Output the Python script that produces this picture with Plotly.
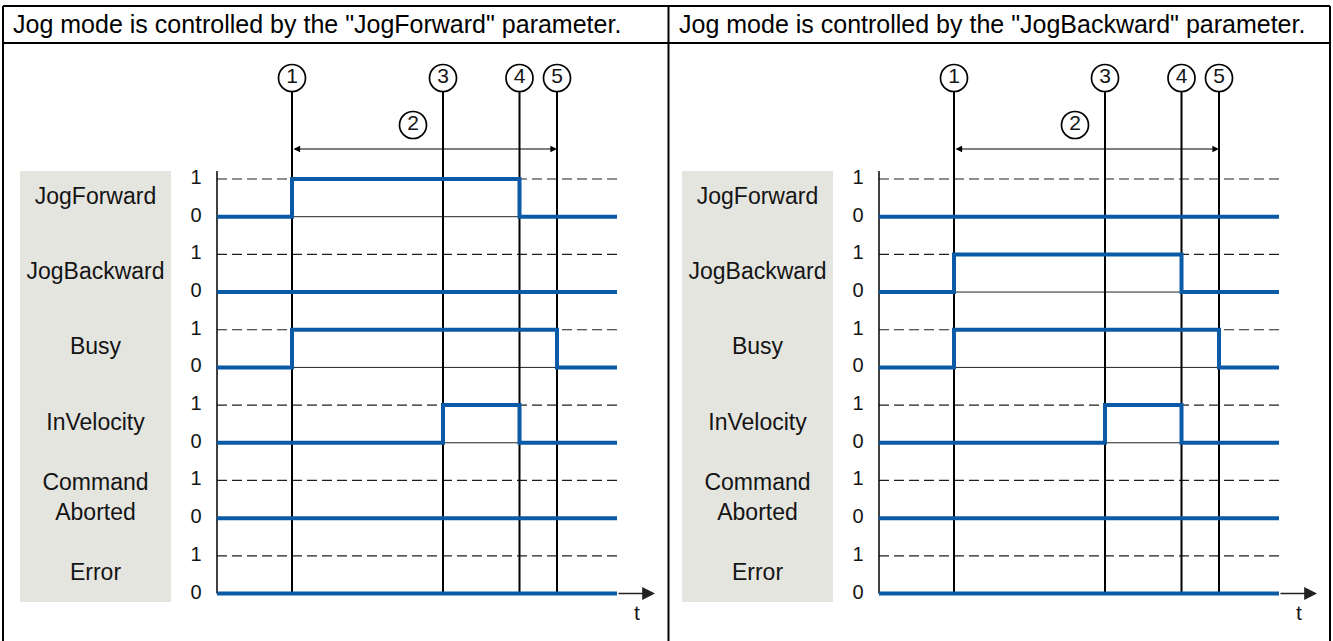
import plotly.graph_objects as go

# --- data -----------------------------------------------------------------
headers = ['Jog mode is controlled by the "JogForward" parameter.',
           'Jog mode is controlled by the "JogBackward" parameter.']

signal_names = ["JogForward", "JogBackward", "Busy", "InVelocity",
                "Command<br>Aborted", "Error"]

# event markers 1,3,4,5 on the time axis (axis runs 0..8)
event_ids = ["1", "3", "4", "5"]
event_times = [1.5, 4.52, 6.05, 6.8]
t_end = 8.0
span_id = "2"
span_label_t = 3.92

# signal state in the intervals [0,t1) [t1,t3) [t3,t4) [t4,t5) [t5,end]
fwd_jogforward = [0, 1, 1, 0, 0]
fwd_jogbackward = [0, 0, 0, 0, 0]
fwd_busy = [0, 1, 1, 1, 0]
fwd_invelocity = [0, 0, 1, 0, 0]
fwd_aborted = [0, 0, 0, 0, 0]
fwd_error = [0, 0, 0, 0, 0]

bwd_jogforward = [0, 0, 0, 0, 0]
bwd_jogbackward = [0, 1, 1, 0, 0]
bwd_busy = [0, 1, 1, 1, 0]
bwd_invelocity = [0, 0, 1, 0, 0]
bwd_aborted = [0, 0, 0, 0, 0]
bwd_error = [0, 0, 0, 0, 0]

panels = [
    [fwd_jogforward, fwd_jogbackward, fwd_busy, fwd_invelocity, fwd_aborted, fwd_error],
    [bwd_jogforward, bwd_jogbackward, bwd_busy, bwd_invelocity, bwd_aborted, bwd_error],
]

# --- geometry / style -----------------------------------------------------
W, H = 1333, 641
SX, SY = 50.0, 37.68          # px per time unit / per level unit
ORIGIN_X = [217, 879]         # pixel x of t=0 in each panel
ORIGIN_Y = 593.5              # pixel y of the lowest 0 level
SPLIT = 668.5                 # column divider

BLUE = "#0b5aa5"
INK = "#141414"
FONT = "Liberation Sans, Arial, sans-serif"


def rx(px):
    # panel relative pixel -> time units
    return (px - 217) / SX


def ry(py):
    return (ORIGIN_Y - py) / SY


def pxp(px):
    return px / W


def pyp(py):
    return 1 - py / H


fig = go.Figure()
n = len(signal_names)
bounds = [0.0] + event_times + [t_end]
circle_y = ry(78)
line_top = ry(91)

for k, states in enumerate(panels):
    xa = "x" if k == 0 else "x2"

    # grey label box
    fig.add_shape(type="rect", xref=xa, yref="y", x0=rx(20), x1=rx(171),
                  y0=ry(602), y1=ry(171), fillcolor="#e5e5e0", line_width=0,
                  layer="below")

    dash_x, dash_y, base_x, base_y = [], [], [], []
    for i in range(n):
        base = 2 * (n - 1 - i)
        dash_x += [0, t_end, None]
        dash_y += [base + 1, base + 1, None]
        base_x += [0, t_end, None]
        base_y += [base, base, None]
    fig.add_trace(go.Scatter(x=dash_x, y=dash_y, xaxis=xa, yaxis="y", mode="lines",
                             line=dict(color="#1e1e1e", width=1.2, dash="10px,5px")))
    fig.add_trace(go.Scatter(x=base_x, y=base_y, xaxis=xa, yaxis="y", mode="lines",
                             line=dict(color="#222222", width=1)))

    # y axis line
    fig.add_trace(go.Scatter(x=[0, 0], y=[0, ry(171)], xaxis=xa, yaxis="y",
                             mode="lines", line=dict(color="black", width=1.5)))

    # event lines
    ev_x, ev_y = [], []
    for t in event_times:
        ev_x += [t, t, None]
        ev_y += [0, line_top, None]
    fig.add_trace(go.Scatter(x=ev_x, y=ev_y, xaxis=xa, yaxis="y", mode="lines",
                             line=dict(color="black", width=2)))

    # signals
    for i, s in enumerate(states):
        base = 2 * (n - 1 - i)
        fig.add_trace(go.Scatter(x=bounds, y=[base + v for v in s] + [base + s[-1]],
                                 xaxis=xa, yaxis="y", mode="lines",
                                 line=dict(color=BLUE, width=4, shape="hv")))

    # level labels 1 / 0
    lv_y, lv_t = [], []
    for i in range(n):
        base = 2 * (n - 1 - i)
        lv_y += [base + 1, base]
        lv_t += ["1", "0"]
    fig.add_trace(go.Scatter(x=[rx(196)] * len(lv_y), y=lv_y, text=lv_t, xaxis=xa,
                             yaxis="y", mode="text",
                             textfont=dict(family=FONT, size=20, color=INK)))

    # signal names
    fig.add_trace(go.Scatter(x=[rx(95.5)] * n,
                             y=[2 * (n - 1 - i) + 0.5 for i in range(n)],
                             text=signal_names, xaxis=xa, yaxis="y", mode="text",
                             textfont=dict(family=FONT, size=23, color=INK)))

    # numbered circles
    fig.add_trace(go.Scatter(x=event_times + [span_label_t],
                             y=[circle_y] * len(event_times) + [ry(125)],
                             text=event_ids + [span_id], xaxis=xa, yaxis="y",
                             mode="markers+text", textposition="middle center",
                             marker=dict(symbol="circle", size=27, color="white",
                                         line=dict(color="black", width=1.7)),
                             textfont=dict(family=FONT, size=21, color=INK)))

    # span arrow between event 1 and event 5
    fig.add_annotation(x=event_times[-1], y=ry(149), ax=event_times[0], ay=ry(149),
                       xref=xa, yref="y", axref=xa, ayref="y", text="",
                       showarrow=True, arrowside="end+start", arrowhead=2,
                       startarrowhead=2, arrowsize=1.1, startarrowsize=1.1,
                       arrowwidth=1.2, arrowcolor="black", standoff=0, startstandoff=0)

    # time axis arrow + t
    fig.add_annotation(x=rx(655), y=0, ax=t_end, ay=0, xref=xa, yref="y",
                       axref=xa, ayref="y", text="", showarrow=True, arrowhead=2,
                       arrowsize=1.6, arrowwidth=1.6, arrowcolor="#222222",
                       standoff=0)
    fig.add_annotation(x=rx(637), y=ry(612), xref=xa, yref="y", text="t",
                       showarrow=False, font=dict(family=FONT, size=21, color=INK))

    # header text
    fig.add_annotation(x=pxp([11, SPLIT + 8][k]), y=pyp(24), xref="paper", yref="paper",
                       text=headers[k], showarrow=False, xanchor="left", yanchor="middle",
                       font=dict(family=FONT, size=25, color="black"))

# table borders
for x0, y0, x1, y1 in [(3, 6, 1330, 6), (3, 43, 1330, 43), (3, 6, 3, H),
                       (SPLIT, 6, SPLIT, H), (1330, 6, 1330, H)]:
    fig.add_shape(type="line", xref="paper", yref="paper", x0=pxp(x0), y0=pyp(y0),
                  x1=pxp(x1), y1=pyp(y1), line=dict(color="black", width=2))

fig.update_layout(
    width=W, height=H, margin=dict(l=0, r=0, t=0, b=0),
    paper_bgcolor="white", plot_bgcolor="white", showlegend=False,
    hovermode=False,
    xaxis=dict(domain=[0, 666 / W], range=[(0 - ORIGIN_X[0]) / SX, (666 - ORIGIN_X[0]) / SX],
               visible=False, anchor="y"),
    xaxis2=dict(domain=[666 / W, 1], range=[(666 - ORIGIN_X[1]) / SX, (W - ORIGIN_X[1]) / SX],
                visible=False, anchor="y"),
    yaxis=dict(domain=[0, 1], range=[(ORIGIN_Y - H) / SY, ORIGIN_Y / SY], visible=False),
)

fig.write_html("out.html", config={"displayModeBar": False},
               post_script="document.body.style.margin='0';")
